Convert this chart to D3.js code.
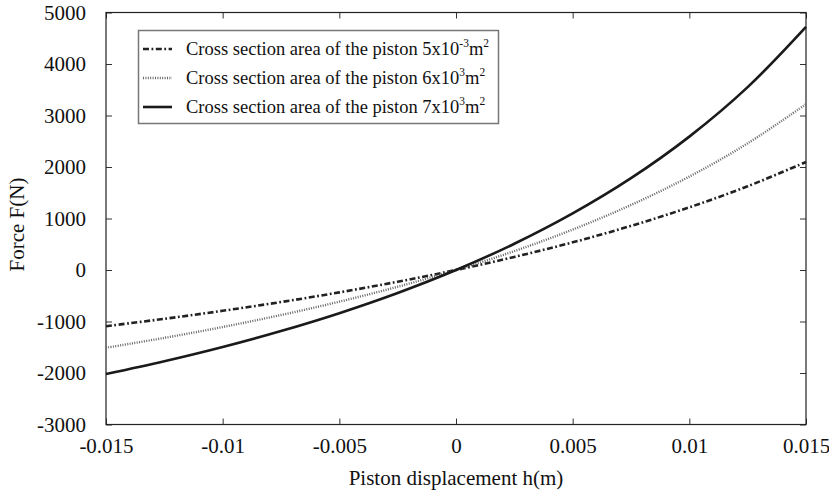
<!DOCTYPE html>
<html>
<head>
<meta charset="utf-8">
<script src="https://cdn.jsdelivr.net/npm/d3@7"></script>
<style>
  html, body { margin: 0; padding: 0; background: #fff; }
  svg { display: block; }
  svg text { font-family: "Liberation Serif", "Times New Roman", serif !important; fill: #111; }
</style>
</head>
<body>
<svg id="chart" width="829" height="490"></svg>
<script>
// Data
const displacement = [-0.015, -0.0125, -0.01, -0.0075, -0.005, -0.0025, 0, 0.0025, 0.005, 0.0075, 0.01, 0.0125, 0.015];
const force5 = [-1091, -948, -792, -622, -435, -228, 0, 254, 537, 857, 1217, 1626, 2097];
const force6 = [-1510, -1318, -1107, -874, -615, -325, 0, 367, 785, 1263, 1814, 2459, 3220];
const force7 = [-2021, -1772, -1495, -1185, -838, -446, 0, 510, 1099, 1783, 2590, 3550, 4720];
const xTicks = [-0.015, -0.01, -0.005, 0, 0.005, 0.01, 0.015];
const xTickLabels = ["-0.015", "-0.01", "-0.005", "0", "0.005", "0.01", "0.015"];
const yTicks = [-3000, -2000, -1000, 0, 1000, 2000, 3000, 4000, 5000];
const yTickLabels = ["-3000", "-2000", "-1000", "0", "1000", "2000", "3000", "4000", "5000"];
const legendPrefix = "Cross section area of the piston ";
const legendLabels = [
  { base: "5x10", exp: "-3", unit: "m", unitExp: "2" },
  { base: "6x10", exp: "3", unit: "m", unitExp: "2" },
  { base: "7x10", exp: "3", unit: "m", unitExp: "2" }
];
const xTitle = "Piston displacement h(m)";
const yTitle = "Force F(N)";

const svg = d3.select("#chart");
const W = 829, H = 490;
const m = { left: 106, right: 23, top: 12.5, bottom: 65.5 };
const iw = W - m.left - m.right, ih = H - m.top - m.bottom;
const serif = '"Liberation Serif", "Times New Roman", serif';

const x = d3.scaleLinear().domain([-0.015, 0.015]).range([m.left, m.left + iw]);
const y = d3.scaleLinear().domain([-3000, 5000]).range([m.top + ih, m.top]);

svg.append("rect").attr("width", W).attr("height", H).attr("fill", "#fff");

const tickLen = 6;
const fs = 21;

// Bottom axis
const xAxisB = d3.axisBottom(x).tickValues(xTicks).tickSize(-tickLen).tickPadding(14)
  .tickFormat((d, i) => xTickLabels[i]);
const gxb = svg.append("g").attr("transform", `translate(0,${m.top + ih})`).call(xAxisB);
// Top axis (ticks only)
const gxt = svg.append("g").attr("transform", `translate(0,${m.top})`)
  .call(d3.axisTop(x).tickValues(xTicks).tickSize(-tickLen).tickFormat(""));
// Left axis
const yAxisL = d3.axisLeft(y).tickValues(yTicks).tickSize(-tickLen).tickPadding(20)
  .tickFormat((d, i) => yTickLabels[i]);
const gyl = svg.append("g").attr("transform", `translate(${m.left},0)`).call(yAxisL);
// Right axis (ticks only)
const gyr = svg.append("g").attr("transform", `translate(${m.left + iw},0)`)
  .call(d3.axisRight(y).tickValues(yTicks).tickSize(-tickLen).tickFormat(""));

[gxb, gxt, gyl, gyr].forEach(g => {
  g.attr("font-family", serif).attr("font-size", fs);
  g.select(".domain").remove();
  g.selectAll(".tick line").attr("stroke", "#333").attr("stroke-width", 1);
  g.selectAll("text").attr("font-size", fs).attr("fill", "#111")
    .style("font-family", serif);
});

// Frame
svg.append("rect").attr("x", m.left).attr("y", m.top).attr("width", iw).attr("height", ih)
  .attr("fill", "none").attr("stroke", "#222").attr("stroke-width", 1.2);

// Series
const series = [
  { vals: force5, dash: "6,2.5,1.8,2.5", width: 2.6, color: "#222" },
  { vals: force6, dash: "1,1.4", width: 2.4, color: "#666" },
  { vals: force7, dash: null, width: 2.6, color: "#1a1a1a" }
];
const line = d3.line().x(d => x(d[0])).y(d => y(d[1])).curve(d3.curveCatmullRom);
const plot = svg.append("g");
series.forEach(s => {
  const p = plot.append("path")
    .datum(displacement.map((h, i) => [h, s.vals[i]]))
    .attr("d", line).attr("fill", "none")
    .attr("stroke", s.color).attr("stroke-width", s.width);
  if (s.dash) p.attr("stroke-dasharray", s.dash);
});

// Legend
const lg = svg.append("g");
lg.append("rect").attr("x", 138.5).attr("y", 30.5).attr("width", 360).attr("height", 93)
  .attr("fill", "#fff").attr("stroke", "#777").attr("stroke-width", 1.5);
const lfs = 18.5;
legendLabels.forEach((lab, i) => {
  const cy = 49 + i * 29;
  const s = series[i];
  const ln = lg.append("line").attr("x1", 143).attr("x2", 172).attr("y1", cy).attr("y2", cy)
    .attr("stroke", s.color).attr("stroke-width", s.width);
  if (s.dash) ln.attr("stroke-dasharray", s.dash);
  const t = lg.append("text").attr("x", 186).attr("y", cy + 6).attr("font-size", lfs);
  t.append("tspan").text(legendPrefix + lab.base);
  t.append("tspan").attr("font-size", lfs * 0.62).attr("dy", -8).text(lab.exp);
  t.append("tspan").attr("dy", 8).text(lab.unit);
  t.append("tspan").attr("font-size", lfs * 0.62).attr("dy", -8).text(lab.unitExp);
});

// Axis titles
svg.append("text").attr("x", m.left + iw / 2).attr("y", 485).attr("text-anchor", "middle")
  .attr("font-size", fs).text(xTitle);
svg.append("text").attr("transform", `translate(24,${m.top + ih / 2 + 6}) rotate(-90)`)
  .attr("text-anchor", "middle").attr("font-size", fs).text(yTitle);
</script>
</body>
</html>
